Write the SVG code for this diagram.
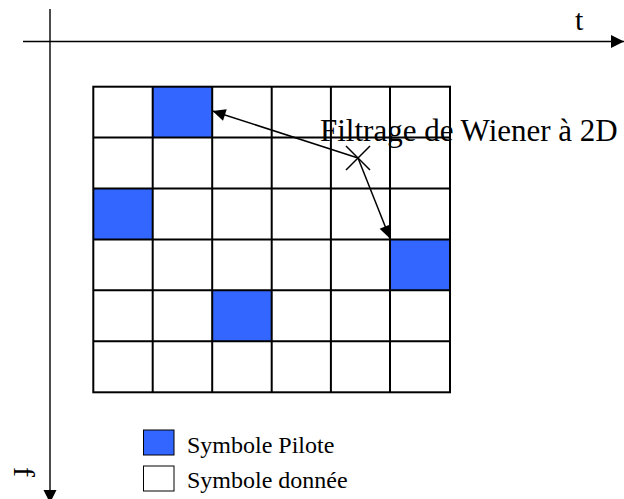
<svg xmlns="http://www.w3.org/2000/svg" width="624" height="499" viewBox="0 0 624 499">
<defs>
<style>
.t{font-family:"Liberation Serif","Times New Roman",serif;fill:#000}
.big{font-size:30px}
.lab{font-size:31px}
.leg{font-size:24px}
.ax{stroke:#000;stroke-width:1.4;fill:none}
.gl{stroke:#000;stroke-width:2;fill:none}
.pilot{fill:#3366FF}
.cn{stroke:#000;stroke-width:1.5;fill:none}
</style>
<marker id="ah" markerUnits="userSpaceOnUse" markerWidth="16" markerHeight="16" viewBox="0 0 16 16" refX="14" refY="8" orient="auto">
<path d="M1,2 L14,8 L1,14 Z" fill="#000"/>
</marker>
<marker id="axh" markerUnits="userSpaceOnUse" markerWidth="16" markerHeight="16" viewBox="0 0 16 16" refX="14" refY="8" orient="auto">
<path d="M1,1.5 L14,8 L1,14.5 Z" fill="#000"/>
</marker>
</defs>
<rect width="624" height="499" fill="#fff"/>
<g id="axes">
<line class="ax" x1="23" y1="41.5" x2="624" y2="41.5" marker-end="url(#axh)"/>
<line class="ax" x1="50" y1="9" x2="50" y2="503" marker-end="url(#axh)"/>
<text class="t big" x="575" y="30">t</text>
<text class="t big" transform="translate(14,467) rotate(90)" x="0" y="0">f</text>
</g>
<g id="pilots">
<rect class="pilot" x="152.7" y="86.7" width="59.5" height="50.9"/>
<rect class="pilot" x="93.3" y="188.5" width="59.4" height="51"/>
<rect class="pilot" x="390" y="239.5" width="60" height="50.8"/>
<rect class="pilot" x="212.2" y="290.3" width="59.5" height="51"/>
</g>
<g id="grid">
<rect class="gl" x="93.3" y="86.7" width="356.7" height="305.6"/>
<path class="gl" d="M152.7,86.7V392.3 M212.2,86.7V392.3 M271.7,86.7V392.3 M330.9,86.7V392.3 M390,86.7V392.3 M93.3,137.6H450 M93.3,188.5H450 M93.3,239.5H450 M93.3,290.3H450 M93.3,341.3H450"/>
</g>
<g id="filter-label">
<text class="t lab" x="320" y="141">Filtrage de Wiener à 2D</text>
<path class="cn" d="M346,146 L370,170 M370,146 L346,170"/>
</g>
<g id="connectors">
<line class="cn" x1="358" y1="158" x2="212.5" y2="111" marker-end="url(#ah)"/>
<line class="cn" x1="358" y1="158" x2="390" y2="238.5" marker-end="url(#ah)"/>
</g>
<g id="legend-pilot">
<rect x="143.5" y="430" width="30.5" height="25" fill="#3366FF" stroke="#000" stroke-width="1"/>
<text class="t leg" x="187" y="453">Symbole Pilote</text>
</g>
<g id="legend-data">
<rect x="143.5" y="466" width="30.5" height="25" fill="#fff" stroke="#000" stroke-width="1"/>
<text class="t leg" x="187" y="488">Symbole donnée</text>
</g>
</svg>
